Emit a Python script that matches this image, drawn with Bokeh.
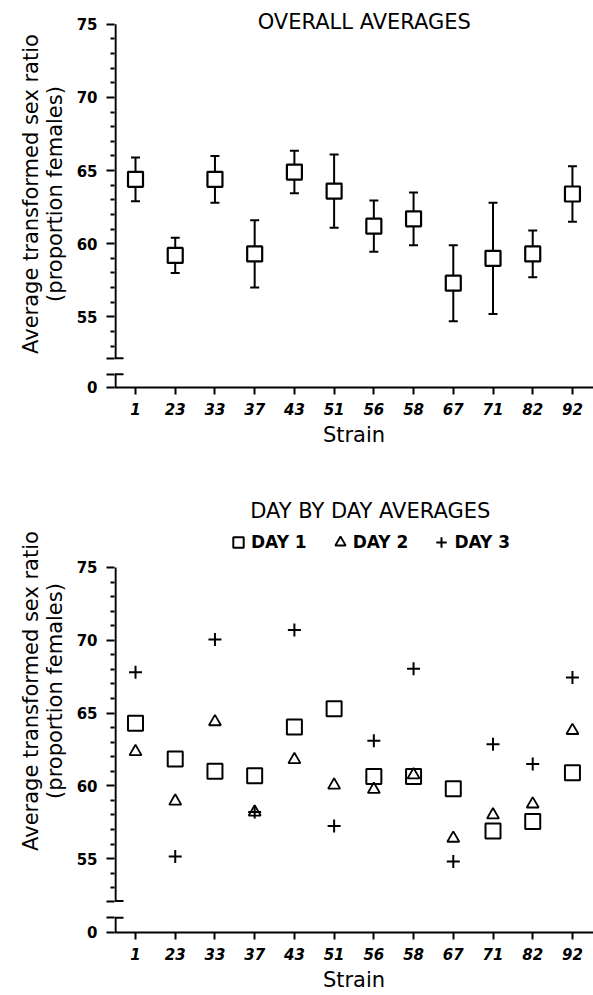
from bokeh.plotting import figure
from bokeh.models import Range1d, FixedTicker, Whisker, TeeHead, ColumnDataSource, Label
from bokeh.layouts import column
from bokeh.embed import file_html
from bokeh.resources import INLINE

# ---------------- data ----------------
strains = ["1", "23", "33", "37", "43", "51", "56", "58", "67", "71", "82", "92"]

overall_mean = [64.4, 59.2, 64.4, 59.3, 64.9, 63.6, 61.2, 61.7, 57.3, 59.0, 59.3, 63.4]
overall_err = [1.5, 1.2, 1.6, 2.3, 1.45, 2.5, 1.75, 1.8, 2.6, 3.8, 1.6, 1.9]

day1 = [64.3, 61.85, 61.0, 60.7, 64.05, 65.3, 60.65, 60.65, 59.8, 56.9, 57.55, 60.9]
day2 = [62.35, 58.95, 64.4, 58.2, 61.8, 60.05, 59.75, 60.75, 56.4, 58.0, 58.75, 63.8]
day3 = [67.8, 55.15, 70.05, 58.2, 70.7, 57.25, 63.1, 68.05, 54.8, 62.85, 61.5, 67.45]

y_major = [55, 60, 65, 70, 75]
y_minor = [53, 54, 56, 57, 58, 59, 61, 62, 63, 64, 66, 67, 68, 69, 71, 72, 73, 74]

FONT = "DejaVu Sans"
X_START, X_END = -0.529, 11.53
PX = 479.0 / (X_END - X_START)   # pixels per category step


def make_fig(height, zero_pos, y_end, brk_lo, brk_hi, border_bottom):
    p = figure(width=593, height=height,
               x_range=Range1d(X_START, X_END),
               y_range=Range1d(zero_pos - 0.001, y_end),
               output_backend="svg", toolbar_location=None,
               min_border_left=114, min_border_right=0,
               min_border_top=0, min_border_bottom=border_bottom)
    p.outline_line_color = None
    p.grid.visible = False
    p.background_fill_color = "white"

    xs = list(range(len(strains)))
    # x axis
    xa = p.xaxis[0]
    xa.ticker = FixedTicker(ticks=xs)
    xa.major_label_overrides = {i: s for i, s in enumerate(strains)}
    xa.axis_line_width = 2
    xa.major_tick_line_width = 2
    xa.major_tick_out = 7
    xa.major_tick_in = 0
    xa.minor_tick_line_color = None
    xa.major_label_standoff = 8
    xa.major_label_text_font = FONT
    xa.major_label_text_font_style = "bold italic"
    xa.major_label_text_font_size = "15px"
    xa.major_label_text_color = "black"
    xa.axis_label = "Strain"
    xa.axis_label_text_font = FONT
    xa.axis_label_text_font_style = "normal"
    xa.axis_label_text_font_size = "21px"
    xa.axis_label_standoff = 5
    xa.axis_label_text_color = "black"

    # y axis (line drawn by hand because of the break)
    ya = p.yaxis[0]
    ya.ticker = FixedTicker(ticks=[zero_pos, brk_lo, brk_hi] + y_major, minor_ticks=y_minor)
    ya.major_label_overrides = {zero_pos: "0", brk_lo: "", brk_hi: ""}
    ya.axis_line_color = None
    ya.major_tick_line_width = 2
    ya.major_tick_out = 8
    ya.major_tick_in = 0
    ya.minor_tick_line_width = 2
    ya.minor_tick_out = 4
    ya.minor_tick_in = 0
    ya.major_label_standoff = 9
    ya.major_label_text_font = FONT
    ya.major_label_text_font_style = "bold"
    ya.major_label_text_font_size = "15px"
    ya.major_label_text_color = "black"
    ya.axis_label = "Average transformed sex ratio\n(proportion females)"
    ya.axis_label_text_font = FONT
    ya.axis_label_text_font_style = "normal"
    ya.axis_label_text_font_size = "21px"
    ya.axis_label_text_line_height = 0.98
    ya.axis_label_standoff = 7
    ya.axis_label_text_color = "black"

    # broken axis line (kept 1px inside the frame so it is not clipped)
    xl = X_START + 1.0 / PX
    p.segment(x0=[xl, xl], x1=[xl, xl],
              y0=[brk_hi, zero_pos], y1=[75, brk_lo],
              line_color="black", line_width=2.2)
    p.segment(x0=[X_START, X_START], x1=[X_START + 9.0 / PX, X_START + 9.0 / PX],
              y0=[brk_hi, brk_lo], y1=[brk_hi, brk_lo],
              line_color="black", line_width=2)
    return p, xs


# ---------------- top chart ----------------
p1, xs = make_fig(449, 50.17, 76.63, 51.08, 52.17, 60)
src = ColumnDataSource(dict(
    x=xs, mean=overall_mean,
    lower=[m - e for m, e in zip(overall_mean, overall_err)],
    upper=[m + e for m, e in zip(overall_mean, overall_err)]))
p1.add_layout(Whisker(source=src, base="x", lower="lower", upper="upper",
                      line_width=2, line_color="black",
                      upper_head=TeeHead(size=9, line_width=2, line_color="black"),
                      lower_head=TeeHead(size=9, line_width=2, line_color="black")))
p1.scatter("x", "mean", source=src, marker="square", size=15,
           line_color="black", line_width=2.2, fill_color="white")
p1.add_layout(Label(x=5.76, y=75.17, text="OVERALL AVERAGES",
                    text_align="center", text_baseline="middle",
                    text_font=FONT, text_font_size="21px", text_color="black"))

# ---------------- bottom chart ----------------
p2, xs = make_fig(545, 49.93, 83.1, 50.95, 52.09, 60)
p2.scatter(xs, day1, marker="square", size=15, line_color="black",
           line_width=2, fill_color=None, legend_label="DAY 1")
p2.scatter(xs, day2, marker="triangle", size=12, line_color="black",
           line_width=1.8, fill_color=None, legend_label="DAY 2")
p2.scatter(xs, day3, marker="cross", size=13, line_color="black",
           line_width=2, legend_label="DAY 3")
p2.add_layout(Label(x=5.91, y=78.86, text="DAY BY DAY AVERAGES",
                    text_align="center", text_baseline="middle",
                    text_font=FONT, text_font_size="21px", text_color="black"))
lg = p2.legend[0]
lg.orientation = "horizontal"
lg.location = (111, 377)
lg.label_text_font = FONT
lg.label_text_font_style = "bold"
lg.label_text_font_size = "17px"
lg.label_text_color = "black"
lg.glyph_width = 26
lg.glyph_height = 26
lg.label_standoff = 0
lg.spacing = 20
lg.padding = 0
lg.margin = 0
lg.border_line_color = None
lg.background_fill_alpha = 0

layout = column(p1, p2, spacing=0)
open("out.html", "w").write(file_html(layout, INLINE))
